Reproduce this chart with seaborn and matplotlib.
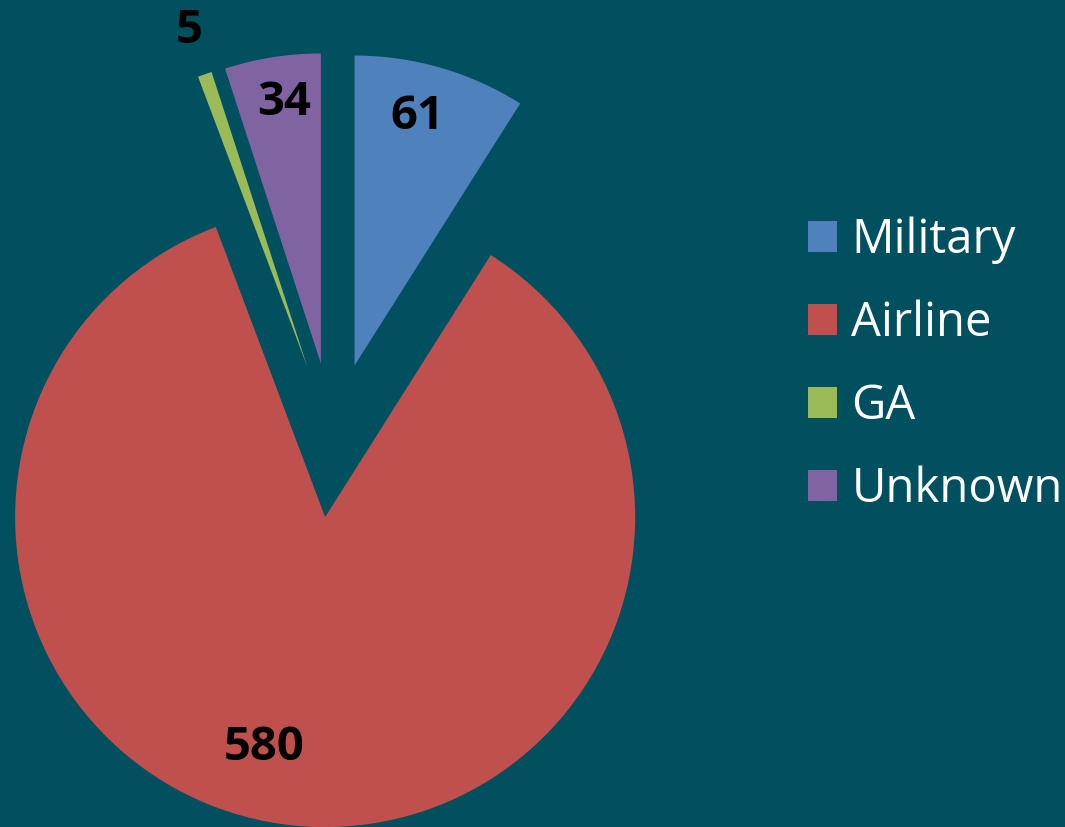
import numpy as np
import seaborn as sns
import matplotlib.pyplot as plt
from matplotlib.patches import Patch

# данные
categories = ['Military', 'Airline', 'GA', 'Unknown']
counts = [61, 580, 5, 34]
colors = ['#4F81BD', '#C0504D', '#9BBB59', '#8064A2']
bg = '#00505F'

sns.set_theme(style='white')
plt.rcParams['font.family'] = ['Open Sans', 'DejaVu Sans']

fig = plt.figure(figsize=(10.65, 8.27), dpi=100, facecolor=bg)
ax = fig.add_axes([0, 0, 1, 1])
ax.set_facecolor(bg)

wedges, _ = ax.pie(counts, colors=colors, startangle=90, counterclock=False,
                   explode=[0.25] * len(counts), radius=1,
                   wedgeprops=dict(linewidth=0))

# подписи значений: расстояние от центра сектора и сдвиг угла
label_dist = [0.83, 0.77, 1.15, 0.85]
label_shift = [2, -9, 0, -1]
for w, val, d, s in zip(wedges, counts, label_dist, label_shift):
    ang = np.deg2rad((w.theta1 + w.theta2) / 2 + s)
    cx, cy = w.center
    ax.text(cx + d * w.r * np.cos(ang), cy + d * w.r * np.sin(ang), str(val),
            ha='center', va='center', fontsize=34, fontweight='bold', color='black')

# центр круга в пикселях ~ (333, 440), радиус ~310 px
scale = 310
ax.set_xlim(-333 / scale, (1065 - 333) / scale)
ax.set_ylim(-(827 - 440) / scale, 440 / scale)
ax.set_aspect('auto')
ax.axis('off')

handles = [Patch(facecolor=c, edgecolor='none') for c in colors]
fig.legend(handles, categories, loc='center left', bbox_to_anchor=(808 / 1065, 0.559),
           frameon=False, fontsize=34, labelcolor='white', handlelength=0.62,
           handleheight=0.62, handletextpad=0.3, labelspacing=0.75,
           borderpad=0, borderaxespad=0)

fig.savefig('out.png', dpi=100, facecolor=bg)
